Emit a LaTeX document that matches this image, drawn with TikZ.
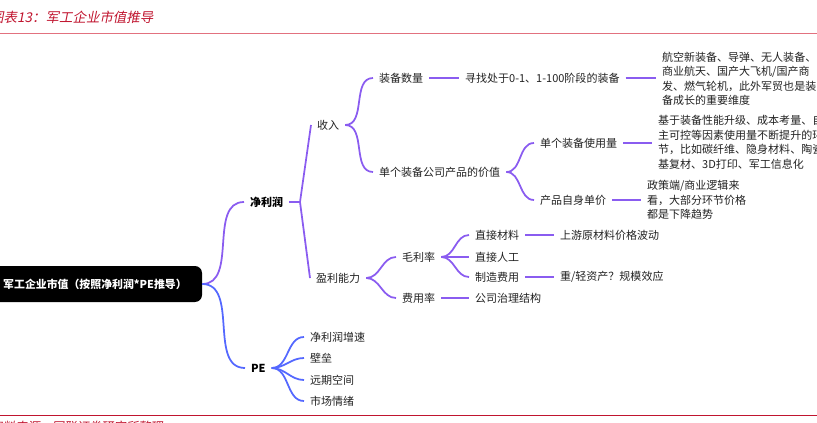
\documentclass[tikz,border=0pt]{standalone}
\usepackage{fontspec}
\setmainfont{Noto Sans CJK SC}
\newfontfamily\captfont[FakeSlant=0.2]{Noto Sans CJK SC}
\usepackage{tikz}
\definecolor{violetline}{HTML}{8A5CF0}
\definecolor{blueline}{HTML}{5468FF}
\definecolor{reportred}{HTML}{C0152F}
\definecolor{rulepink}{HTML}{E2717F}
\definecolor{inkgrey}{HTML}{222222}

\begin{document}
\begin{tikzpicture}[x=0.03cm, y=-0.03cm]
  \tikzstyle{txt}=[anchor=west, inner xsep=5pt, inner ysep=2pt, text=inkgrey,
    font=\fontsize{9.4}{12.4}\selectfont]
  \tikzstyle{hd}=[txt, text=black, font=\fontsize{9.4}{12.4}\selectfont\bfseries]
  \tikzstyle{blk}=[txt, align=left]
  \tikzstyle{br}=[line width=1.5pt, violetline]
  \tikzstyle{brb}=[line width=1.5pt, blueline]

  \useasboundingbox (0,0) rectangle (817,423);
  \clip (0,0) rectangle (817,423);

  % title and rules
  \node[anchor=west, inner sep=0, text=reportred,
    font=\captfont\fontsize{11.5}{13}\selectfont] (ttl) at (-10,17)
    {图表13：军工企业市值推导};
  \draw[rulepink, line width=1.2pt] (0,33.5) -- (817,33.5);
  \draw[reportred, line width=0.8pt] (0,415.5) -- (817,415.5);
  \node[anchor=north west, inner sep=0, text=reportred,
    font=\captfont\fontsize{10.5}{12}\selectfont] (src) at (-10,420.5)
    {资料来源：国联证券研究所整理};

  % root
  \node[fill=black, rounded corners=6pt, minimum width=6.42cm,
    minimum height=1.08cm, text=white,
    font=\fontsize{9.3}{11}\selectfont\bfseries] (root) at (95,284)
    {军工企业市值（按照净利润*PE推导）};

  % level 1
  \node[hd] (jlr) at (244,202) {净利润};
  \node[hd] (pe) at (245,368) {PE};

  % net profit side
  \node[txt] (sr) at (311,125) {收入};
  \node[txt] (ylnl) at (310,278) {盈利能力};

  \node[txt] (zbsl) at (373,78) {装备数量};
  \node[txt] (xzzb) at (459,78) {寻找处于0-1、1-100阶段的装备};
  \node[blk] (zbwd) at (656,79)
    {航空新装备、导弹、无人装备、\\商业航天、国产大飞机/国产商\\发、燃气轮机，此外军贸也是装\\备成长的重要维度};

  \node[txt] (cpjz) at (373,172) {单个装备公司产品的价值};
  \node[txt] (syl) at (534,143) {单个装备使用量};
  \node[blk] (syhj) at (652,142.5)
    {基于装备性能升级、成本考量、自\\主可控等因素使用量不断提升的环\\节，比如碳纤维、隐身材料、陶瓷\\基复材、3D打印、军工信息化};
  \node[txt] (cpdj) at (534,200) {产品自身单价};
  \node[blk] (jgqs) at (641,200)
    {政策端/商业逻辑来\\看，大部分环节价格\\都是下降趋势};

  \node[txt] (mll) at (396,257) {毛利率};
  \node[txt] (fyl) at (396,298) {费用率};
  \node[txt] (zjcl) at (469,235) {直接材料};
  \node[txt] (zjrg) at (469,257) {直接人工};
  \node[txt] (zzfy) at (469,277) {制造费用};
  \node[txt] (sycl) at (554,235) {上游原材料价格波动};
  \node[txt] (zczc) at (554,277) {重/轻资产？规模效应};
  \node[txt] (gszl) at (469,298) {公司治理结构};

  % PE side
  \node[txt] (pe1) at (304,337) {净利润增速};
  \node[txt] (pe2) at (304,358) {壁垒};
  \node[txt] (pe3) at (304,380) {远期空间};
  \node[txt] (pe4) at (304,401) {市场情绪};

  % connectors
  \draw[br] (root.east) to[out=0, in=180] (jlr.west);
  \draw[brb] (root.east) to[out=0, in=180] (pe.west);

  \coordinate (jlrf) at (300,202);
  \draw[br] (jlr.east) -- (jlrf) -- (sr.west);
  \draw[br] (jlrf) -- (ylnl.west);

  \draw[br] (sr.east) to[out=0, in=180] (zbsl.west);
  \draw[br] (sr.east) to[out=0, in=180] (cpjz.west);
  \draw[br] (zbsl) -- (xzzb);
  \draw[br] (xzzb.east) -- (xzzb.east -| zbwd.west);
  \draw[br] (cpjz.east) to[out=0, in=180] (syl.west);
  \draw[br] (cpjz.east) to[out=0, in=180] (cpdj.west);
  \draw[br] (syl.east) -- (syl.east -| syhj.west);
  \draw[br] (cpdj.east) -- (cpdj.east -| jgqs.west);

  \draw[br] (ylnl.east) to[out=0, in=180] (mll.west);
  \draw[br] (ylnl.east) to[out=0, in=180] (fyl.west);
  \draw[br] (mll.east) to[out=0, in=180] (zjcl.west);
  \draw[br] (mll.east) -- (zjrg.west);
  \draw[br] (mll.east) to[out=0, in=180] (zzfy.west);
  \draw[br] (zjcl) -- (sycl);
  \draw[br] (zzfy) -- (zczc);
  \draw[br] (fyl) -- (gszl);

  \foreach \k in {1,...,4}
    \draw[brb] (pe.east) to[out=0, in=180] (pe\k.west);
\end{tikzpicture}
\end{document}
